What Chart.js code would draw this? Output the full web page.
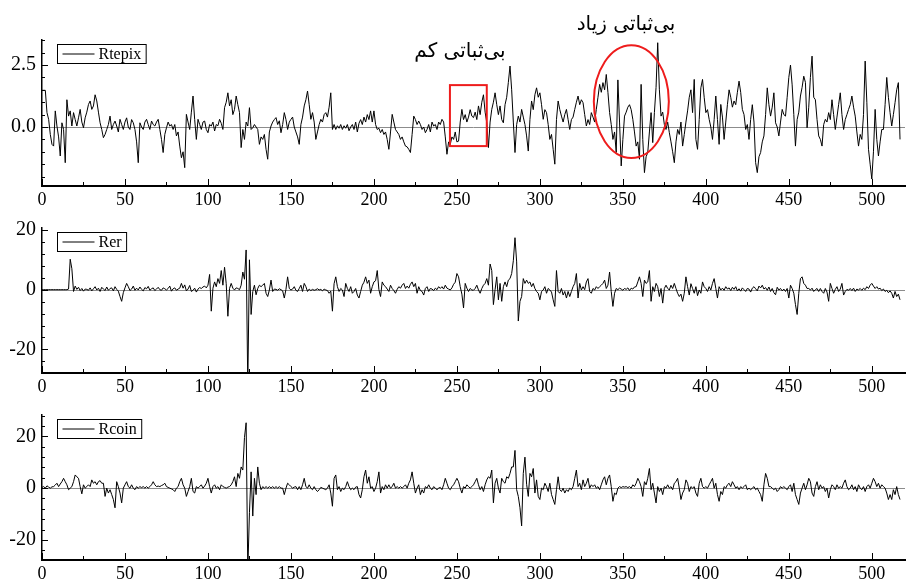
<!DOCTYPE html>
<html>
<head>
<meta charset="utf-8">
<script src="https://cdn.jsdelivr.net/npm/chart.js@4"></script>
<style>
  html, body { margin: 0; padding: 0; background: #fff; }
  body { width: 906px; height: 581px; position: relative; overflow: hidden; }
  canvas { position: absolute; left: 0; }
</style>
</head>
<body>
<canvas id="c1" width="906" height="210" style="top:0px"></canvas>
<canvas id="c2" width="906" height="187" style="top:210px"></canvas>
<canvas id="c3" width="906" height="184" style="top:397px"></canvas>
<script>
// سری‌ها (خوانده شده از تصویر، هر نقطه یک روز)
const rtepix = [
  1.48, 1.48, 1.48, 0.58, 0.31, -0.3, -0.7, -0.77, 0.65, 0.04, -0.4, -1.17, 0.17, -0.1, -1.44, 1.1, 0.44, 0.65, 0.04, 0.58,
  0.3, 0.04, 0.37, 0.71, 0.2, -0.03, 0.37, 0.6, 0.91, 1.05, 0.71, 0.85, 1.3, 1.05, 0.6, 0.17, -0.1, -0.43, -0.3, -0.1,
  0.1, 0.44, -0.1, 0.1, 0.24, 0.04, -0.2, 0.31, 0.1, -0.1, 0.2, 0.37, 0.0, -0.1, 0.3, 0.17, -0.1, -0.6, -1.44, 0.17,
  0.0, -0.1, 0.2, 0.31, 0.1, -0.1, 0.24, 0.1, 0.04, 0.2, 0.31, -0.1, -0.5, -1.03, -0.3, -0.03, 0.2, 0.04, 0.1, -0.1,
  0.1, -0.36, -0.2, -0.77, -1.24, -1.0, -1.64, 0.51, 0.2, -0.1, 0.6, 1.25, 0.3, -0.5, 0.31, 0.1, -0.1, 0.2, 0.24, -0.1,
  -0.23, 0.1, 0.04, 0.2, -0.16, 0.1, 0.05, 0.31, 0.15, -0.1, 0.78, 1.0, 1.38, 0.85, 1.1, 0.5, 0.71, 1.25, 0.9, 0.58,
  -0.83, -0.1, -0.5, 0.2, 0.04, 0.78, -0.1, -0.03, 0.1, 0.0, -0.1, -0.7, -0.4, -0.5, -0.3, -0.9, -1.3, -0.2, 0.04, 0.2,
  0.3, 0.38, 0.1, 0.25, -0.23, 0.1, 0.58, 0.3, -0.1, 0.2, 0.31, 0.4, 0.0, -0.2, -0.4, -0.7, 0.1, 0.4, 0.85, 1.1,
  1.45, 0.9, 0.31, 0.58, 0.2, -0.5, -0.2, 0.1, 0.31, 0.2, 0.5, 0.58, 0.4, 0.8, 1.38, -0.1, 0.1, -0.1, 0.05, -0.05,
  0.1, -0.1, 0.05, -0.05, 0.1, -0.15, 0.0, 0.1, -0.1, 0.2, -0.2, 0.15, 0.3, 0.1, 0.4, 0.2, 0.5, 0.3, 0.65, 0.2,
  0.65, 0.1, -0.1, -0.05, -0.23, -0.1, -0.3, -0.2, -0.5, -0.9, -0.2, 0.51, 0.2, -0.1, -0.2, -0.3, -0.5, -0.4, -0.6, -0.77,
  -0.8, -0.9, -1.03, -0.3, 0.44, 0.3, 0.1, 0.24, 0.1, -0.1, 0.0, -0.23, -0.1, 0.1, -0.2, 0.2, 0.04, 0.1, -0.1, 0.2,
  0.1, 0.31, 0.2, -0.4, -1.1, -0.6, -0.7, -0.4, -0.5, -0.2, -0.6, -0.57, 0.2, 0.71, 0.3, 0.5, 0.2, 0.4, 0.7, 0.44,
  0.38, 0.6, 0.3, 0.85, 0.5, 1.0, 1.3, 0.6, 0.17, -0.83, 0.2, 0.71, 1.0, 1.38, 0.9, 0.5, 0.85, 0.3, 0.17, 0.9,
  1.2, 1.8, 2.46, 1.5, 0.2, -1.03, 0.1, 0.44, 0.2, 0.71, 0.4, 0.1, -0.36, -0.97, 0.3, 1.05, 0.7, 1.3, 1.58, 1.2,
  1.38, 0.9, 0.31, 0.7, 0.58, 0.1, -0.5, -0.3, -0.9, -1.5, 0.3, 1.05, 0.7, 0.44, 0.2, 0.5, 0.71, 0.3, -0.1, 0.3,
  0.4, 0.71, 1.0, 1.25, 0.9, 1.1, 0.98, 0.5, 0.04, 0.3, 0.1, 0.58, 0.4, 0.2, 0.71, 1.2, 1.72, 1.4, 1.79, 1.5,
  2.12, 1.4, 0.58, 0.1, -0.5, -0.2, -1.03, 1.9, 0.2, -1.57, -0.5, 0.44, 0.6, 0.8, 0.9, 0.7, 0.31, -0.2, -0.77, -0.6,
  -1.3, 1.72, -0.5, -1.84, -1.2, -1.03, -0.2, 0.58, -0.63, 0.58, 1.6, 3.4, 1.5, 0.44, 0.6, 0.1, -0.1, 0.2, -0.23, -0.6,
  -1.0, -1.44, -0.6, -0.1, -0.3, 0.2, -0.77, -0.3, 0.2, 0.65, 1.2, 1.5, 0.58, 1.92, -0.5, -0.9, 0.3, 1.58, 1.92, 1.2,
  0.58, 0.7, 0.31, 0.0, -0.5, 0.3, 1.25, 0.3, -0.7, 0.91, 0.4, -0.5, 0.2, 0.9, 1.5, 1.2, 0.8, 1.05, 0.9, 1.4,
  1.85, 1.4, 0.71, 0.5, -0.1, 0.1, -0.5, 0.3, 0.9, 0.2, -1.44, -1.84, -1.2, -1.03, -0.6, -0.36, 0.5, 1.58, 0.9, 0.44,
  0.8, 1.38, 0.17, 0.0, -0.36, 0.2, 0.71, 0.5, 0.44, 1.2, 2.0, 2.5, 1.7, 0.5, -0.77, 0.3, 0.6, 1.25, 1.6, 2.05,
  1.8, -0.03, 0.8, 2.0, 2.86, 1.2, 1.1, 0.3, -0.36, -0.5, -0.77, 0.1, 0.31, 0.2, 0.58, 0.3, 1.1, 0.5, -0.1, 0.4,
  0.9, 1.38, 0.5, -0.1, 0.3, 0.5, 0.71, 0.9, 1.25, 0.8, 0.44, -0.2, -0.77, -0.3, -0.5, 0.5, 2.66, 1.0, -0.9, -1.5,
  -2.1, -1.0, 0.71, -0.5, -1.17, -0.6, -0.1, -0.1, 0.9, 2.0, 1.2, 0.58, 0.04, 0.5, 0.98, 1.5, 1.79, -0.5
];

const rer = [
  0, 0, 0, 0, 0, 0, 0, 0, 0, 0, 0, 0, 0, 0, 0, 0, 0.2, 10.2, 7.0, -0.6,
  1.2, 0.1, 0.8, -0.3, 0.4, -0.5, 0.2, 0.1, -0.2, 0.6, -0.4, 0.3, 1.0, -0.1, 0.5, -0.6, 0.8, 0.2, -0.3, 0.9,
  -0.2, 0.4, 0.6, -0.4, 1.0, 0.1, -0.5, -2.3, -3.9, -1.0, 0.6, 2.1, 1.0, -0.3, 0.2, 1.2, -0.2, 0.5, -0.1, 0.9,
  0.1, -0.4, 0.7, 0.3, 1.1, -0.2, 0.3, 0.6, -0.3, 0.2, 0.8, 0.0, -0.2, 0.6, 0.3, -0.1, 0.4, 1.2, -0.5, 0.3,
  0.6, -0.2, 0.2, 0.5, 2.1, 0.5, 1.6, -0.4, 0.2, 1.4, -0.6, -0.2, 0.5, -0.8, 0.2, 0.7, 0.4, 0.9, 1.2, 0.6,
  1.5, 5.1, -7.2, 0.5, 2.6, 1.0, 3.7, 2.1, 6.4, 1.5, 7.5, 2.0, -8.9, 0.4, 2.1, 0.5, -0.1, 0.6, 0.4, 0.0,
  1.5, 5.9, 3.5, 13.3, -32, 10.0, -8.3, -0.6, 1.5, -1.7, 0.4, 1.5, 1.0, 1.5, 2.1, -1.2, -2.3, -0.1, 3.2, -0.6,
  0.2, 0.1, -0.2, 0.3, 0.0, -0.4, -2.8, 0.1, 4.3, 0.4, -0.1, 0.2, 1.0, -0.2, -0.6, 0.4, 1.5, -0.6, 2.1, 1.0,
  -0.6, 0.2, -0.3, 0.1, -0.2, 0.0, 0.3, -0.1, 0.1, -0.4, 0.2, -0.1, -0.3, -1.2, -0.5, -7.2, 2.0, 4.3, 1.0, -0.6,
  0.4, -0.1, -2.3, 2.1, 0.4, -0.6, 1.0, -1.2, -0.6, 0.4, -1.8, -2.8, -0.6, 1.5, 2.5, 4.3, 2.1, 3.2, -1.2, 1.0,
  2.6, 3.0, 6.4, 0.0, -2.3, 2.6, 1.5, 1.0, 0.2, -0.6, 1.5, 0.4, -0.3, -1.2, 0.1, 1.0, 0.5, 1.5, 2.1, 0.4,
  1.2, 0.5, 1.8, 2.6, 1.0, 2.1, -1.2, 1.0, -0.3, -0.6, -1.8, 0.4, 1.0, -0.6, 0.4, 0.2, -0.3, 0.5, 0.0, 1.0,
  0.4, 1.0, 0.2, 1.5, 0.5, 0.2, -0.1, 0.6, 1.8, 2.5, 5.4, 4.3, 1.0, -1.5, -6.1, 2.1, 0.5, -0.6, 0.4, -0.1,
  -0.2, 0.4, 1.5, -0.1, -1.2, 0.4, 1.5, 2.1, 3.7, 1.5, 8.6, 6.4, -5.0, 0.0, 4.3, -3.4, 2.1, -3.9, 1.0, 2.6,
  1.0, 3.2, 3.7, 5.4, 9.7, 17.4, 9.3, -10.5, -3.9, -2.3, 3.7, 2.1, 3.2, 2.1, 2.6, 1.0, 2.1, 0.4, -0.6, -1.2,
  -3.4, -0.6, -0.1, 1.0, -1.2, 0.4, -0.1, -0.8, -3.4, -5.6, 6.4, -0.6, -1.2, 0.4, -1.8, -0.6, -2.8, -0.6, -2.3, -0.6,
  1.0, 2.1, 5.4, -2.8, 2.1, -0.1, 1.0, 0.0, 2.6, 3.7, -0.6, -1.2, 0.4, -0.1, 1.0, 0.4, 1.0, 1.5, 2.1, 3.2,
  0.4, 1.5, 5.9, -0.6, -5.6, -1.2, 0.4, 0.0, 0.5, 0.2, -0.2, 0.4, 0.1, 0.6, -0.3, 0.5, 0.2, 0.9, 1.0, 2.6,
  4.3, 2.1, -2.3, 3.2, 2.1, 2.6, 6.4, -3.9, 1.0, -0.6, 2.1, 1.0, -2.3, 0.4, -4.5, 0.4, 1.5, 0.4, -0.1, 1.5,
  0.4, 2.1, 0.4, -1.2, -2.3, -1.5, -3.9, -1.2, 4.3, 1.0, -1.8, 2.0, 0.4, -1.2, 1.0, -2.0, -0.1, -1.2, 2.6, 1.0,
  0.4, -0.6, 1.0, -0.1, 2.1, 3.7, 0.4, -2.8, 1.0, -0.1, 0.5, -0.2, 1.0, 0.2, 0.6, -0.3, 0.8, 0.1, 1.0, -0.4,
  0.3, -0.5, 0.6, 0.0, -0.6, 0.4, 0.2, -0.8, 0.5, 1.0, 0.3, -0.4, 1.2, 0.6, 1.5, 0.2, 0.7, -0.2, 0.9, -0.6,
  0.4, -1.0, -1.7, 0.8, -0.1, 0.4, -0.4, 0.2, -0.6, 0.4, -2.8, 1.5, 0.4, -1.2, -5.0, -8.3, -1.2, 3.7, 4.3, 2.1,
  1.5, 0.4, 0.4, -0.1, 0.5, -0.6, 0.0, 0.4, -0.6, 0.4, -0.6, -1.2, 0.4, -0.8, -3.9, 2.1, 0.4, -1.2, 0.1, 1.0,
  -0.6, 0.2, 2.1, -1.8, -0.6, 0.1, -0.2, 0.4, -0.3, 0.5, -0.6, 0.2, -0.1, 0.4, -0.2, 0.5, 0.0, 1.0, 0.4, 1.5,
  2.1, 1.2, 0.4, 1.0, 0.2, 0.5, -0.3, 0.2, -0.6, -0.2, -1.0, -0.4, -1.2, -2.8, -0.6, -2.3, -1.5, -3.4
];

const rcoin = [
  0.3, 0.6, 0.0, 0.9, 0.4, 0.0, 0.5, 0.6, 1.2, 1.9, 0.6, 1.6, 2.5, 3.8, 2.5, 1.3, -0.6, 0.0, 0.6, 2.5,
  5.1, 4.4, 3.8, 0.6, -2.2, 1.3, 0.0, 0.6, 1.3, 0.6, 3.2, 1.9, 2.5, 1.3, 2.5, 2.9, 1.9, 1.9, -3.2, 0.0,
  -1.9, -0.6, -2.5, -4.4, -7.6, 2.5, 0.6, -1.9, -5.7, 0.0, 1.3, 2.5, 0.6, 0.0, 1.3, 0.0, -0.6, 0.6, 0.0, 0.6,
  0.2, 0.6, 0.0, 0.6, 0.0, 0.6, 1.3, 2.5, 1.3, 0.6, 0.8, 0.6, 1.0, 1.3, 1.9, 0.6, 0.3, 0.0, -0.3, -0.6,
  -1.3, 0.0, 0.6, 2.5, 3.8, 1.3, 0.0, -3.2, -1.3, 0.6, 3.8, -1.3, -1.9, 0.6, 0.0, 0.6, 1.3, 0.0, 0.8, 1.9,
  3.8, 0.6, -1.9, 0.6, 1.3, 0.0, 0.6, -0.6, 1.3, 0.6, 0.3, 0.0, 0.4, 0.6, 1.3, 2.5, 4.4, 0.6, 5.7, 3.8,
  8.2, 7.0, 19.6, 25.3, -32, -9.5, 6.3, -10.8, 3.8, -2.5, 8.2, 1.9, -0.6, 0.6, 0.0, 0.6, 0.0, 0.6, 0.0, 0.6,
  0.0, 0.6, 0.0, 0.6, 0.0, 0.0, -2.5, 0.0, 1.9, 1.3, 0.6, 0.0, 0.4, 0.6, -0.6, 0.6, -0.6, 1.3, 3.8, 0.6,
  0.0, 1.3, 0.0, -0.6, 0.6, -0.6, -1.3, -0.6, 0.3, 0.0, -0.3, -0.6, 0.0, 1.3, -1.9, -7.0, 3.8, 5.1, -0.6, 0.6,
  -1.3, 0.0, -0.6, 0.6, 2.5, 0.6, -0.6, 0.0, -0.6, 0.4, 0.6, -2.5, -3.8, -0.6, 4.4, 7.0, 1.9, 4.4, 0.0, 0.6,
  -1.3, 0.0, 2.5, 6.3, -1.9, 0.6, -0.6, 1.3, 0.0, 1.3, 0.0, 0.6, 1.9, 0.0, 0.6, 0.0, 0.6, 0.0, 0.6, 1.3,
  0.0, 1.9, 3.2, 6.3, 1.9, -1.9, 0.0, 1.3, -2.5, -0.6, -1.9, 0.6, 0.0, 1.3, 0.0, -0.6, 0.6, 0.0, -0.6, 0.0,
  0.3, -0.6, 1.3, 3.8, 1.9, 0.0, -0.6, 0.6, 1.3, 2.5, 3.8, 2.5, 0.0, -1.9, 0.6, 0.0, 1.3, 0.6, 0.0, 0.6,
  1.3, 2.5, 3.8, 1.3, -0.6, 0.6, -1.3, 1.3, 3.2, 4.4, 3.8, 7.0, -5.7, 1.9, 3.8, 0.0, -1.9, 3.8, 2.5, 1.9,
  4.4, 3.8, 5.7, 8.2, 8.2, 14.6, -0.6, -3.2, -7.6, -14.6, 5.7, 12.0, 1.5, -3.2, 5.7, 4.4, 7.6, -1.9, 3.2, -3.2,
  -4.4, 0.0, -0.6, 1.9, 0.6, -1.3, 1.9, -2.5, -4.4, -6.3, -0.6, 4.4, -0.6, -1.3, 0.0, -1.9, -0.6, -1.3, 0.0, -0.6,
  0.6, 3.8, 7.0, 0.6, 1.9, -0.6, 3.2, 0.6, 1.9, 3.8, 0.0, 1.3, 0.6, 1.3, 0.0, 0.6, -0.6, 1.3, 3.2, 4.4,
  1.3, 3.8, 5.1, 0.6, -5.1, -1.9, -2.5, 0.0, 0.6, 0.2, 0.6, 0.4, 0.6, 0.2, 0.6, 0.0, 1.3, 0.6, 1.9, 3.8,
  2.5, 0.6, -3.2, 2.5, 1.3, 3.8, 7.6, -0.6, 1.9, -1.9, -5.7, 0.6, -1.3, 0.0, -2.5, 0.6, 0.0, 1.3, 0.0, 0.6,
  -0.6, 1.9, 2.5, 3.8, 0.0, -4.4, -1.9, -0.6, 3.2, 1.9, -1.3, 0.6, 0.0, 0.6, -1.9, -3.2, 1.9, 3.8, 0.6, 0.0,
  0.6, 0.0, 1.3, 2.5, 3.8, 0.0, 1.9, -2.5, -5.1, -1.3, -2.5, 0.6, 0.0, 1.3, 1.9, 0.6, 2.5, 1.3, 0.0, 0.6,
  -0.6, 0.6, 0.0, 0.6, 1.3, -0.6, 0.0, -0.6, 0.0, 0.6, -0.6, 0.0, -1.3, -2.5, -5.1, 1.3, 5.7, 3.8, 0.6, 0.6,
  0.0, -0.6, 0.0, -1.3, -0.6, 0.6, 0.0, 0.6, 0.0, -0.6, 0.6, 1.3, -1.3, 1.9, -2.5, -4.4, -6.3, -1.9, 0.0, 1.9,
  -0.6, 1.3, 3.8, 2.5, -1.9, -3.2, 0.6, 2.5, -0.6, 1.3, 0.0, 0.6, -1.3, 0.0, -3.8, -0.6, 1.3, 0.6, -0.6, 1.3,
  0.0, 0.6, 0.0, 1.9, 3.2, 0.6, -0.6, 0.0, 1.3, -0.6, 0.6, -1.3, 1.3, 0.0, -0.6, 0.6, -1.3, 0.6, 1.3, 0.0,
  1.9, 3.8, 2.5, 0.6, 1.9, 0.0, 1.3, 0.6, 0.0, -1.9, -4.4, -2.5, -4.4, -0.6, -2.5, 0.6, -2.5, -4.4
];

// برچسب‌های محورها
const xTickLabels = [0, 50, 100, 150, 200, 250, 300, 350, 400, 450, 500];
const yTickLabelsTop = [0, 2.5];
const yTickLabelsBottom = [-20, 0, 20];

const SERIF = '"Liberation Serif", "Times New Roman", serif';

const hasLabel = (list, v) => list.some(l => Math.abs(l - v) < 1e-6);

// خط صفر، تیک‌های رو به داخل، راهنما و یادداشت‌ها
const framePlugin = {
  id: 'frame',
  beforeDatasetsDraw(chart) {
    const {ctx, chartArea: a, scales: {y}} = chart;
    const py = Math.round(y.getPixelForValue(0)) + 0.5;
    ctx.save();
    ctx.strokeStyle = '#8c8c8c';
    ctx.lineWidth = 1;
    ctx.beginPath();
    ctx.moveTo(a.left, py);
    ctx.lineTo(a.right, py);
    ctx.stroke();
    ctx.restore();
  },
  afterDraw(chart, args, opts) {
    const {ctx, chartArea: a, scales: {x, y}} = chart;
    ctx.save();
    ctx.strokeStyle = '#000';
    ctx.lineWidth = 1;
    ctx.beginPath();
    x.ticks.forEach(t => {
      const px = Math.round(x.getPixelForValue(t.value)) + 0.5;
      const len = hasLabel(xTickLabels, t.value) ? 7 : 4;
      ctx.moveTo(px, a.bottom);
      ctx.lineTo(px, a.bottom - len);
    });
    y.ticks.forEach(t => {
      const py = Math.round(y.getPixelForValue(t.value)) + 0.5;
      const len = hasLabel(opts.yLabels, t.value) ? 6 : 3;
      ctx.moveTo(a.left, py);
      ctx.lineTo(a.left + len, py);
    });
    ctx.stroke();

    // legend box
    ctx.font = '16px ' + SERIF;
    const tw = ctx.measureText(opts.name).width;
    const lx = a.left + 15 + 0.5, ly = a.top + 4 + 0.5;
    const w = 41 + tw + 5, h = 19;
    ctx.fillStyle = '#fff';
    ctx.fillRect(lx, ly, w, h);
    ctx.strokeRect(lx, ly, w, h);
    ctx.beginPath();
    ctx.moveTo(lx + 5, ly + h / 2);
    ctx.lineTo(lx + 37, ly + h / 2);
    ctx.stroke();
    ctx.fillStyle = '#000';
    ctx.textBaseline = 'middle';
    ctx.fillText(opts.name, lx + 41, ly + h / 2 + 1);

    if (opts.notes) {
      const n = opts.notes;
      ctx.strokeStyle = '#ee1c1c';
      ctx.lineWidth = 2;
      const r = n.rect;
      const rx0 = x.getPixelForValue(r.x0), rx1 = x.getPixelForValue(r.x1);
      const ry0 = y.getPixelForValue(r.y0), ry1 = y.getPixelForValue(r.y1);
      ctx.strokeRect(rx0, ry0, rx1 - rx0, ry1 - ry0);
      const e = n.ellipse;
      const ex0 = x.getPixelForValue(e.x0), ex1 = x.getPixelForValue(e.x1);
      const ey0 = y.getPixelForValue(e.y0), ey1 = y.getPixelForValue(e.y1);
      ctx.beginPath();
      ctx.ellipse((ex0 + ex1) / 2, (ey0 + ey1) / 2, (ex1 - ex0) / 2, (ey1 - ey0) / 2, 0, 0, Math.PI * 2);
      ctx.stroke();
      ctx.fillStyle = '#000';
      ctx.font = '20px "DejaVu Sans"';
      ctx.textAlign = 'center';
      ctx.textBaseline = 'middle';
      n.texts.forEach(t => ctx.fillText(t.text, t.px, t.py));
    }
    ctx.restore();
  }
};

function makeChart(id, values, name, yMin, yMax, yStep, yLabels, fmt, padTop, xHeight, notes) {
  return new Chart(document.getElementById(id), {
    type: 'line',
    data: {
      datasets: [{
        label: name,
        data: values.map((v, i) => ({x: i, y: v})),
        borderColor: '#000',
        borderWidth: 1,
        pointRadius: 0,
        tension: 0
      }]
    },
    options: {
      responsive: false,
      animation: false,
      devicePixelRatio: 1,
      layout: {padding: {top: padTop, right: 1, left: 0, bottom: 0}},
      plugins: {
        legend: {display: false},
        tooltip: {enabled: false},
        frame: {name: name, yLabels: yLabels, notes: notes}
      },
      scales: {
        x: {
          type: 'linear',
          min: 0,
          max: 520,
          afterFit: s => { s.height = xHeight; },
          grid: {display: false, drawTicks: false},
          border: {display: true, color: '#000', width: 2},
          ticks: {
            stepSize: 25,
            autoSkip: false,
            maxRotation: 0,
            includeBounds: false,
            padding: 3,
            color: '#000',
            font: {family: SERIF, size: 18},
            callback: v => hasLabel(xTickLabels, v) ? String(v) : ''
          }
        },
        y: {
          min: yMin,
          max: yMax,
          afterFit: s => { s.width = 42; },
          grid: {display: false, drawTicks: false},
          border: {display: true, color: '#000', width: 1.5},
          ticks: {
            stepSize: yStep,
            autoSkip: false,
            includeBounds: false,
            padding: 6,
            color: '#000',
            font: {family: SERIF, size: 20},
            callback: v => hasLabel(yLabels, v) ? fmt(v) : ''
          }
        }
      }
    },
    plugins: [framePlugin]
  });
}

makeChart('c1', rtepix, 'Rtepix', -2.38, 3.51, 0.5, yTickLabelsTop, v => v.toFixed(1), 40, 24, {
  rect: {x0: 245.8, x1: 268, y0: 1.69, y1: -0.77},
  ellipse: {x0: 332.5, x1: 377.7, y0: 3.3, y1: -1.25},
  texts: [
    {text: 'بی‌ثباتی کم', px: 460, py: 52},
    {text: 'بی‌ثباتی زیاد', px: 626, py: 25}
  ]
});
makeChart('c2', rer, 'Rer', -27.9, 20.65, 4, yTickLabelsBottom, v => String(Math.round(v)), 15, 24, null);
makeChart('c3', rcoin, 'Rcoin', -27.8, 28.3, 4, yTickLabelsBottom, v => String(Math.round(v)), 15, 21, null);
</script>
</body>
</html>
